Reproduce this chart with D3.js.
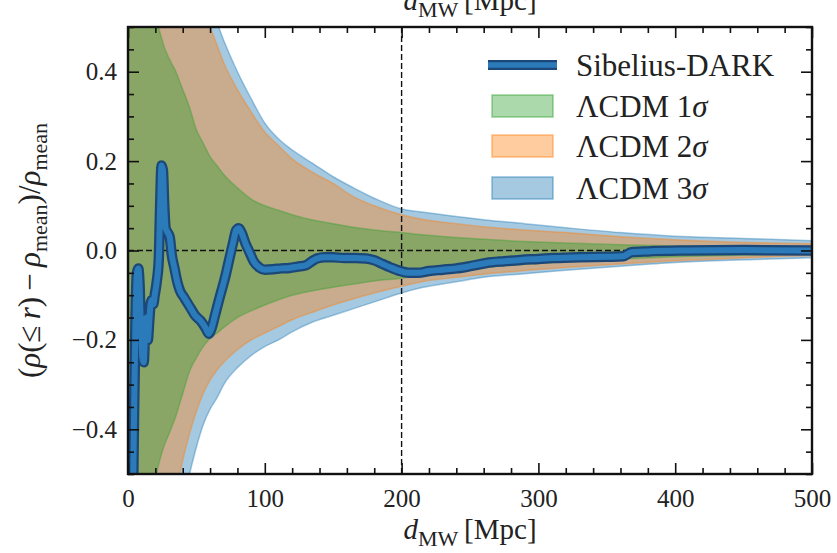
<!DOCTYPE html>
<html>
<head>
<meta charset="utf-8">
<script src="https://cdn.jsdelivr.net/npm/d3@7"></script>
<style>
  body { margin: 0; background: #fff; }
  svg { display: block; }
  text { font-family: "Liberation Serif", "DejaVu Serif", serif; fill: #222; }
</style>
</head>
<body>
<svg id="chart" width="837" height="553"></svg>
<script>
// Distance from the Milky Way [Mpc] at which the LCDM percentile bands are sampled
const bandD = [0, 5, 10, 15, 20, 25, 30, 35, 40, 45, 50, 55, 60, 65, 70, 80, 90, 100, 110, 120,
               135, 150, 165, 180, 200, 215, 240, 260, 290, 320, 360, 400, 440, 470, 500];
// 1 sigma band
const sigma1Hi = [4, 2.0, 1.1, 0.8, 0.55, 0.47, 0.43, 0.4, 0.36, 0.32, 0.27, 0.24, 0.21, 0.19, 0.17, 0.14, 0.115, 0.1, 0.09, 0.08,
                  0.068, 0.06, 0.052, 0.046, 0.04, 0.035, 0.029, 0.025, 0.02, 0.017, 0.013, 0.01, 0.008, 0.007, 0.006];
const sigma1Lo = [-3, -1.6, -1.0, -0.7, -0.52, -0.45, -0.41, -0.37, -0.32, -0.27, -0.24, -0.215, -0.197, -0.185, -0.172, -0.15, -0.135, -0.122, -0.11, -0.1,
                  -0.09, -0.082, -0.075, -0.068, -0.062, -0.055, -0.045, -0.038, -0.031, -0.025, -0.019, -0.014, -0.011, -0.009, -0.008];
// 2 sigma band
const sigma2Hi = [6, 3, 2, 1.5, 1.2, 1.0, 0.9, 0.8, 0.72, 0.65, 0.59, 0.54, 0.5, 0.46, 0.42, 0.36, 0.31, 0.265, 0.235, 0.205,
                  0.175, 0.15, 0.12, 0.1, 0.08, 0.07, 0.06, 0.053, 0.046, 0.04, 0.031, 0.024, 0.019, 0.017, 0.015];
const sigma2Lo = [-5, -2.5, -1.6, -1.1, -0.85, -0.72, -0.62, -0.54, -0.47, -0.41, -0.36, -0.32, -0.29, -0.268, -0.25, -0.222, -0.2, -0.185, -0.17, -0.155,
                  -0.138, -0.122, -0.108, -0.095, -0.08, -0.07, -0.06, -0.053, -0.045, -0.038, -0.03, -0.023, -0.018, -0.014, -0.012];
// 3 sigma band
const sigma3Hi = [7, 3.5, 2.4, 1.8, 1.4, 1.2, 1.05, 0.93, 0.83, 0.75, 0.68, 0.6, 0.55, 0.51, 0.47, 0.4, 0.34, 0.285, 0.25, 0.225,
                  0.195, 0.165, 0.14, 0.117, 0.093, 0.086, 0.076, 0.069, 0.06, 0.051, 0.04, 0.032, 0.028, 0.025, 0.022];
const sigma3Lo = [-6, -3, -2, -1.4, -1.05, -0.88, -0.76, -0.66, -0.57, -0.5, -0.44, -0.39, -0.355, -0.33, -0.3, -0.262, -0.235, -0.215, -0.2, -0.182,
                  -0.16, -0.145, -0.13, -0.115, -0.095, -0.083, -0.07, -0.06, -0.052, -0.044, -0.035, -0.027, -0.022, -0.019, -0.016];

// Sibelius-DARK enclosed overdensity profile
const sibeliusD = [0.5, 2, 3.5, 4.5, 5.5, 6.5, 7.5, 8.5, 9.5, 10.5, 11.5, 12.5, 13.5, 14.5, 15.5, 16.5, 17.5, 18.5, 19.5, 21,
                   22.5, 23.5, 24.5, 25.5, 26.5, 27.5, 29, 30.5, 32, 34, 36, 38, 41, 45, 49, 53, 57, 59, 61, 64,
                   67, 71, 74, 77, 79, 81, 83, 86, 89, 92, 96, 100, 106, 112, 118, 124, 130, 134, 138, 144,
                   150, 158, 166, 174, 180, 186, 192, 198, 205, 212, 220, 230, 240, 250, 262, 275, 287, 300, 311, 330,
                   350, 362, 368, 380, 408, 450, 500];
const sibeliusDelta = [-1.0, -0.9, -0.6, -0.35, -0.15, -0.05, -0.04, -0.08, -0.18, -0.24, -0.25, -0.18, -0.15, -0.2, -0.16, -0.12, -0.11, -0.12, -0.1, -0.07,
                   -0.02, 0.1, 0.19, 0.18, 0.1, 0.05, 0.04, 0.03, -0.01, -0.04, -0.07, -0.09, -0.105, -0.125, -0.145, -0.157, -0.175, -0.186, -0.175, -0.14,
                   -0.105, -0.06, -0.02, 0.02, 0.045, 0.05, 0.04, 0.015, -0.005, -0.025, -0.038, -0.043, -0.042, -0.04, -0.039, -0.036, -0.033, -0.025, -0.018, -0.015,
                   -0.015, -0.017, -0.017, -0.018, -0.022, -0.03, -0.038, -0.045, -0.05, -0.05, -0.046, -0.043, -0.04, -0.035, -0.028, -0.024, -0.021, -0.019, -0.017, -0.015,
                   -0.014, -0.013, -0.004, -0.002, 0, 0.001, 0];

const xTicks = [0, 100, 200, 300, 400, 500];
const yTicks = [-0.4, -0.2, 0.0, 0.2, 0.4];
const refDistance = 200;
const legendNames = ["Sibelius-DARK", "1σ", "2σ", "3σ"];

const svg = d3.select("#chart");
const W = 837, H = 553;
const plot = { left: 128, top: 27, right: 812, bottom: 474 };

const x = d3.scaleLinear().domain([0, 500]).range([plot.left, plot.right]);
const y = d3.scaleLinear().domain([-0.5, 0.5]).range([plot.bottom, plot.top]);

svg.append("rect").attr("width", W).attr("height", H).attr("fill", "#fff");

svg.append("defs").append("clipPath").attr("id", "plotClip")
  .append("rect")
  .attr("x", plot.left).attr("y", plot.top)
  .attr("width", plot.right - plot.left).attr("height", plot.bottom - plot.top);

const inner = svg.append("g").attr("clip-path", "url(#plotClip)");

// Percentile bands, widest first
const bands = [
  { lo: sigma3Lo, hi: sigma3Hi, color: "#1f77b4" },
  { lo: sigma2Lo, hi: sigma2Hi, color: "#ff7f0e" },
  { lo: sigma1Lo, hi: sigma1Hi, color: "#2ca02c" }
];
const bandArea = d3.area()
  .x(d => x(d.d)).y0(d => y(d.lo)).y1(d => y(d.hi))
  .curve(d3.curveMonotoneX);
bands.forEach(b => {
  const rows = bandD.map((d, i) => ({ d, lo: b.lo[i], hi: b.hi[i] }));
  inner.append("path")
    .attr("d", bandArea(rows))
    .attr("fill", b.color).attr("fill-opacity", 0.4)
    .attr("stroke", b.color).attr("stroke-opacity", 0.4).attr("stroke-width", 1.5);
});

// Reference lines
inner.append("line")
  .attr("x1", plot.left).attr("x2", plot.right).attr("y1", y(0)).attr("y2", y(0))
  .attr("stroke", "#111").attr("stroke-width", 1.4).attr("stroke-dasharray", "6,3");
inner.append("line")
  .attr("x1", x(refDistance)).attr("x2", x(refDistance)).attr("y1", plot.top).attr("y2", plot.bottom)
  .attr("stroke", "#111").attr("stroke-width", 1.4).attr("stroke-dasharray", "6,3");

// Sibelius-DARK profile: dark outline with a lighter core
const profile = sibeliusD.map((d, i) => ({ d, v: sibeliusDelta[i] }));
const line = d3.line().x(p => x(p.d)).y(p => y(p.v)).curve(d3.curveMonotoneX);
inner.append("path").attr("d", line(profile))
  .attr("fill", "none").attr("stroke", "#1b4878").attr("stroke-width", 10.5)
  .attr("stroke-linejoin", "round").attr("stroke-linecap", "round");
inner.append("path").attr("d", line(profile))
  .attr("fill", "none").attr("stroke", "#2b7bba").attr("stroke-width", 6)
  .attr("stroke-linejoin", "round").attr("stroke-linecap", "round");

// Axes with inward ticks on all four sides
const majorLen = 11, minorLen = 6, tickFont = 25;
const xMinor = d3.range(0, 501, 20).filter(v => v % 100 !== 0);
const yMinor = d3.range(-0.5, 0.5001, 0.05).map(v => +v.toFixed(2)).filter(v => Math.abs(Math.round(v * 100) % 20) !== 0);

function styleAxis(g) {
  g.select(".domain").remove();
  g.selectAll(".tick line").attr("stroke", "#111").attr("stroke-width", 1.6);
  g.selectAll(".tick text").attr("font-size", tickFont).attr("fill", "#333")
    .style("font-family", "'Liberation Serif', serif");
}
const fmtY = v => (v < 0 ? "\u2212" : "") + Math.abs(v).toFixed(1);

svg.append("g").attr("transform", `translate(0,${plot.bottom})`)
  .call(d3.axisBottom(x).tickValues(xTicks).tickSizeInner(-majorLen).tickSizeOuter(0).tickPadding(15).tickFormat(d3.format("d")))
  .call(styleAxis);
svg.append("g").attr("transform", `translate(0,${plot.bottom})`)
  .call(d3.axisBottom(x).tickValues(xMinor).tickSize(-minorLen).tickFormat(""))
  .call(styleAxis);
svg.append("g").attr("transform", `translate(0,${plot.top})`)
  .call(d3.axisTop(x).tickValues(xTicks).tickSize(-majorLen).tickFormat(""))
  .call(styleAxis);
svg.append("g").attr("transform", `translate(0,${plot.top})`)
  .call(d3.axisTop(x).tickValues(xMinor).tickSize(-minorLen).tickFormat(""))
  .call(styleAxis);

svg.append("g").attr("transform", `translate(${plot.left},0)`)
  .call(d3.axisLeft(y).tickValues(yTicks).tickSizeInner(-majorLen).tickSizeOuter(0).tickPadding(11).tickFormat(fmtY))
  .call(styleAxis);
svg.append("g").attr("transform", `translate(${plot.left},0)`)
  .call(d3.axisLeft(y).tickValues(yMinor).tickSize(-minorLen).tickFormat(""))
  .call(styleAxis);
svg.append("g").attr("transform", `translate(${plot.right},0)`)
  .call(d3.axisRight(y).tickValues(yTicks).tickSize(-majorLen).tickFormat(""))
  .call(styleAxis);
svg.append("g").attr("transform", `translate(${plot.right},0)`)
  .call(d3.axisRight(y).tickValues(yMinor).tickSize(-minorLen).tickFormat(""))
  .call(styleAxis);

// Frame
svg.append("rect")
  .attr("x", plot.left).attr("y", plot.top)
  .attr("width", plot.right - plot.left).attr("height", plot.bottom - plot.top)
  .attr("fill", "none").attr("stroke", "#111").attr("stroke-width", 2.4);

// Axis labels (the secondary copy above the frame runs off the top edge)
function distanceLabel(yBase) {
  const t = svg.append("text").attr("x", (plot.left + plot.right) / 2).attr("y", yBase)
    .attr("text-anchor", "middle").attr("font-size", 29);
  t.append("tspan").attr("font-style", "italic").text("d");
  t.append("tspan").attr("font-size", 22).attr("dy", 7).text("MW");
  t.append("tspan").attr("dy", -7).text("\u2009[Mpc]");
}
distanceLabel(539);
distanceLabel(10);

const yl = svg.append("text")
  .attr("transform", `translate(40,${(plot.top + plot.bottom) / 2}) rotate(-90)`)
  .attr("text-anchor", "middle").attr("font-size", 31);
yl.append("tspan").text("(");
yl.append("tspan").attr("font-style", "italic").text("ρ");
yl.append("tspan").text("(≤\u2009");
yl.append("tspan").attr("font-style", "italic").text("r");
yl.append("tspan").text(")\u2009\u2212\u2009");
yl.append("tspan").attr("font-style", "italic").text("ρ");
yl.append("tspan").attr("font-size", 22).attr("dy", 7).text("mean");
yl.append("tspan").attr("dy", -7).text(")/");
yl.append("tspan").attr("font-style", "italic").text("ρ");
yl.append("tspan").attr("font-size", 22).attr("dy", 7).text("mean");

// Legend
const leg = svg.append("g");
const legX = 488, legW = 69, textX = 576, legFont = 31;
const rowY = [65, 106, 146, 188];
leg.append("line").attr("x1", legX).attr("x2", legX + legW).attr("y1", rowY[0]).attr("y2", rowY[0])
  .attr("stroke", "#1b4878").attr("stroke-width", 10);
leg.append("line").attr("x1", legX).attr("x2", legX + legW).attr("y1", rowY[0]).attr("y2", rowY[0])
  .attr("stroke", "#2b7bba").attr("stroke-width", 5.5);
leg.append("text").attr("x", textX).attr("y", rowY[0] + 11).attr("font-size", legFont).text(legendNames[0]);

[bands[2], bands[1], bands[0]].forEach((b, i) => {
  const cy = rowY[i + 1];
  leg.append("rect").attr("x", legX + 4).attr("y", cy - 11).attr("width", legW - 8).attr("height", 22)
    .attr("fill", b.color).attr("fill-opacity", 0.4)
    .attr("stroke", b.color).attr("stroke-opacity", 0.45).attr("stroke-width", 1.6);
  const t = leg.append("text").attr("x", textX).attr("y", cy + 11).attr("font-size", legFont);
  t.append("tspan").text("ΛCDM ");
  t.append("tspan").text(legendNames[i + 1].slice(0, 1));
  t.append("tspan").attr("font-style", "italic").text(legendNames[i + 1].slice(1));
});
</script>
</body>
</html>
